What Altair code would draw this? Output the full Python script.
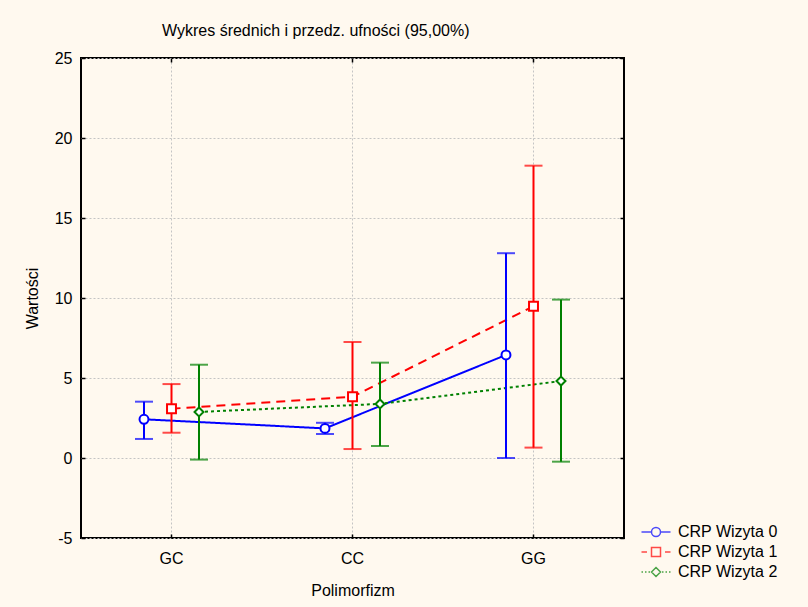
import altair as alt
import pandas as pd

groups = ["GC", "CC", "GG"]
series = ["CRP Wizyta 0", "CRP Wizyta 1", "CRP Wizyta 2"]
mean0 = [2.42, 1.85, 6.44]
lo0 = [1.19, 1.50, 0.00]
hi0 = [3.52, 2.20, 12.80]
mean1 = [3.08, 3.83, 9.48]
lo1 = [1.58, 0.56, 0.65]
hi1 = [4.62, 7.25, 18.27]
mean2 = [2.88, 3.38, 4.81]
lo2 = [-0.10, 0.75, -0.23]
hi2 = [5.83, 5.96, 9.90]
y_ticks = [-5, 0, 5, 10, 15, 20, 25]

rows = []
for s, m, lo, hi in zip(series, [mean0, mean1, mean2], [lo0, lo1, lo2], [hi0, hi1, hi2]):
    for g, mv, l, h in zip(groups, m, lo, hi):
        rows.append({"grp": g, "series": s, "mean": mv, "lo": l, "hi": h})
df = pd.DataFrame(rows)

FONT = "Liberation Sans"
W, H = 543, 480
colors = ["#0000FF", "#FF0000", "#008000"]

color_scale = alt.Scale(domain=series, range=colors)
x_scale = alt.Scale(type="band", domain=groups, paddingInner=0, paddingOuter=0)
y_scale = alt.Scale(domain=[-5, 25], nice=False, zero=False)
# spacer slots on both sides keep the three series close to the category centre
off_scale = alt.Scale(type="band", domain=["_l"] + series + ["_r"], paddingInner=0, paddingOuter=0.79)
xoff = alt.XOffset("series:N", scale=off_scale)

common_axis = dict(labelFont=FONT, labelFontSize=16, labelColor="#000",
                   titleFont=FONT, titleFontSize=16, titleColor="#000",
                   titleFontWeight="normal")

x_main = alt.X("grp:N", scale=x_scale, axis=alt.Axis(
    orient="bottom", title="Polimorfizm", labelAngle=0, labelPadding=12,
    titlePadding=16, ticks=False, domain=False, grid=True, bandPosition=0.5,
    gridColor="#c4c4c4", gridDash=[2, 2], gridWidth=1, **common_axis))
y_main = alt.Y("mean:Q", scale=y_scale, axis=alt.Axis(
    orient="left", values=y_ticks, title="Wartości", labelPadding=9,
    titlePadding=14, ticks=False, domain=False, grid=True,
    labelExpr="datum.value + ''",
    gridColor="#c4c4c4", gridDash=[2, 2], gridWidth=1, **common_axis))

tick_axis = dict(labels=False, title=None, ticks=True, tickSize=4, tickWidth=1.5,
                 tickColor="#000", domain=False, grid=False)

lines = alt.Chart().mark_line(strokeWidth=2).encode(
    x=x_main, xOffset=xoff, y=y_main,
    color=alt.Color("series:N", scale=color_scale, legend=None),
    strokeDash=alt.StrokeDash("series:N", scale=alt.Scale(
        domain=series, range=[[1, 0], [9, 6], [3, 3]]), legend=None),
)

rules = alt.Chart().mark_rule(strokeWidth=2).encode(
    x=alt.X("grp:N", scale=x_scale, axis=alt.Axis(orient="top", offset=-H, bandPosition=0.5, **tick_axis)),
    xOffset=xoff,
    y=alt.Y("lo:Q", scale=y_scale, axis=alt.Axis(orient="right", offset=-W, values=y_ticks, **tick_axis)),
    y2="hi:Q",
    color=alt.Color("series:N", scale=color_scale, legend=None),
)

caps = alt.Chart().transform_fold(["lo", "hi"], as_=["end", "val"]).mark_tick(
    size=18, thickness=2).encode(
    x=alt.X("grp:N", scale=x_scale, axis=alt.Axis(orient="bottom", offset=-H, bandPosition=0.5, **tick_axis)),
    xOffset=xoff,
    y=alt.Y("val:Q", scale=y_scale, axis=alt.Axis(orient="left", offset=-W, values=y_ticks, **tick_axis)),
    color=alt.Color("series:N", scale=color_scale, legend=None),
)

points = alt.Chart().mark_point(filled=False, fill="white", fillOpacity=1, strokeWidth=2, opacity=1).encode(
    x=alt.X("grp:N", scale=x_scale, axis=None),
    xOffset=xoff,
    y=alt.Y("mean:Q", scale=y_scale, axis=None),
    color=alt.Color("series:N", scale=color_scale, legend=None),
    shape=alt.Shape("series:N", scale=alt.Scale(domain=series, range=["circle", "square", "diamond"]), legend=None),
    size=alt.Size("series:N", scale=alt.Scale(domain=series, range=[80, 80, 80]), legend=None),
)

leg_paths = [
    "M-2.9,0L-0.9,0M0.9,0L2.9,0M0.9,0A0.9,0.9,0,1,1,-0.9,0A0.9,0.9,0,1,1,0.9,0Z",
    "M-2.9,0L-1.8,0M1.8,0L2.9,0M-0.9,-0.9L0.9,-0.9L0.9,0.9L-0.9,0.9Z",
    "M-2.9,0L-2.6,0M-2.2,0L-1.9,0M-1.5,0L-1.2,0M1.2,0L1.5,0M1.9,0L2.2,0M2.6,0L2.9,0M0,-0.9L0.9,0L0,0.9L-0.9,0Z",
]

legend_layer = alt.Chart().transform_filter("false").mark_point(filled=False, size=100, strokeWidth=1.5).encode(
    color=alt.Color("series:N", scale=color_scale, legend=alt.Legend(
        title=None, orient="none", legendX=567, legendY=466, labelFont=FONT,
        labelFontSize=16, labelColor="#000", labelOffset=14, rowPadding=4,
        symbolStrokeWidth=1.5, symbolSize=100)),
    shape=alt.Shape("series:N", scale=alt.Scale(domain=series, range=leg_paths)),
)

chart = alt.layer(lines, rules, caps, points, legend_layer, data=df).resolve_scale(
    color="independent", shape="independent"
).resolve_axis(x="independent", y="independent").properties(
    width=W, height=H,
    title=alt.TitleParams("Wykres średnich i przedz. ufności (95,00%)", anchor="start",
                          frame="group", dx=81, font=FONT, fontSize=16,
                          fontWeight="normal", color="#000", offset=11),
    background="#FFF9EF",
    padding={"left": 81, "top": 58, "right": 184, "bottom": 69},
    autosize=alt.AutoSizeParams(type="none"),
).configure_view(stroke="#000", strokeWidth=2, fill="white")

chart.save("out.html", embed_options={"renderer": "svg", "actions": False})
